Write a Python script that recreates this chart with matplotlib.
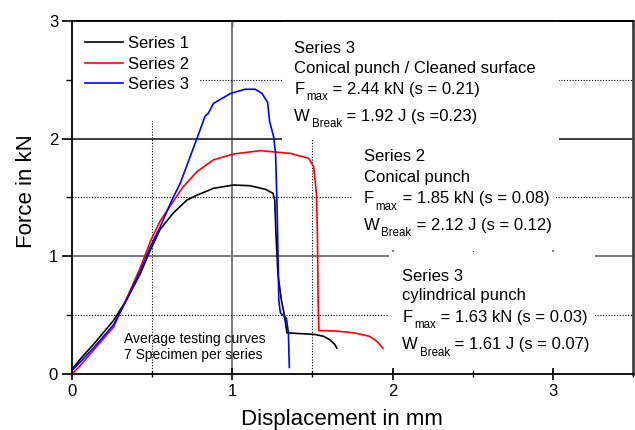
import matplotlib
matplotlib.use('Agg')
import matplotlib.pyplot as plt
from matplotlib.patches import Rectangle
import numpy as np

plt.rcParams['font.family'] = ['Liberation Sans', 'DejaVu Sans']

# ---------------- data ----------------
series_names = ["Series 1", "Series 2", "Series 3"]
series_colors = ["#000000", "#ff0000", "#0000ff"]

s1_x = [0, 0.06, 0.133, 0.26, 0.34, 0.425, 0.49, 0.55, 0.633, 0.717, 0.78, 0.883,
        1.008, 1.11, 1.206, 1.254, 1.265, 1.272, 1.285, 1.306, 1.325, 1.341, 1.40,
        1.47, 1.52, 1.57, 1.61, 1.64, 1.652]
s1_y = [0.04, 0.14, 0.25, 0.457, 0.63, 0.85, 1.057, 1.23, 1.37, 1.478, 1.52, 1.578,
        1.606, 1.60, 1.57, 1.536, 1.478, 1.2, 0.85, 0.63, 0.5, 0.35, 0.345,
        0.34, 0.335, 0.32, 0.29, 0.25, 0.22]

s2_x = [0, 0.05, 0.133, 0.26, 0.34, 0.425, 0.49, 0.55, 0.633, 0.69, 0.78, 0.883,
        1.008, 1.175, 1.3625, 1.477, 1.508, 1.525, 1.531, 1.536, 1.54, 1.65, 1.76,
        1.857, 1.9, 1.94]
s2_y = [0, 0.07, 0.2, 0.4, 0.64, 0.9, 1.13, 1.30, 1.47, 1.585, 1.72, 1.82,
        1.87, 1.898, 1.875, 1.833, 1.76, 1.535, 1.2, 0.6, 0.37, 0.365, 0.35,
        0.32, 0.28, 0.22]

s3_x = [0, 0.05, 0.133, 0.26, 0.34, 0.425, 0.49, 0.55, 0.623, 0.675, 0.775, 0.83,
        0.85, 0.883, 0.99, 1.08, 1.144, 1.185, 1.22, 1.233, 1.258, 1.27, 1.28,
        1.29, 1.30, 1.337, 1.35, 1.356]
s3_y = [0.03, 0.1, 0.22, 0.42, 0.63, 0.87, 1.085, 1.25, 1.478, 1.62, 1.985, 2.19,
        2.215, 2.30, 2.385, 2.42, 2.42, 2.385, 2.31, 2.145, 2.017, 1.875, 1.394,
        0.63, 0.52, 0.475, 0.35, 0.056]

x_major = [0, 1, 2, 3]
x_minor = [0.5, 1.5, 2.5, 3.5]
y_major = [0, 1, 2, 3]
y_minor = [0.5, 1.5, 2.5]

# text blocks: (plain line, plain line, (main, sub, rest), (main, sub, rest))
block_upper = ["Series 3", "Conical punch / Cleaned surface",
               ("F", "max", " = 2.44 kN (s = 0.21)"), ("W", "Break", " = 1.92 J (s =0.23)")]
block_mid = ["Series 2", "Conical punch",
             ("F", "max", " = 1.85 kN (s = 0.08)"), ("W", "Break", " = 2.12 J (s = 0.12)")]
block_low = ["Series 3", "cylindrical punch",
             ("F", "max", " = 1.63 kN (s = 0.03)"), ("W", "Break", " = 1.61 J (s = 0.07)")]
note_lines = ["Average testing curves", "7 Specimen per series"]

# ---------------- figure ----------------
fig = plt.figure(figsize=(6.35, 4.30), dpi=100)
ax = fig.add_axes([72/635, 1-374/430, 561/635, 353/430])
ax.set_xlim(0, 3.5)
ax.set_ylim(0, 3)

# grid lines (below everything)
for v in x_major[1:]:
    ax.axvline(v, color='#707070', lw=1.3, zorder=0.5)
for v in x_minor[:-1]:
    ax.axvline(v, color='k', lw=0.8, ls=(0, (1, 1.5)), zorder=0.5)
for v in y_major[1:-1]:
    ax.axhline(v, color='#303030' if v == 2 else '#707070', lw=1.3, zorder=0.5)
for v in y_minor:
    ax.axhline(v, color='k', lw=0.8, ls=(0, (1, 1.5)), zorder=0.5)

# white backgrounds of the text blocks
for (x0, y0, w, h) in [(0, 2.15, 0.8, 0.85), (1.31, 1.985, 1.73, 1.015),
                       (1.75, 1.05, 1.27, 0.935), (1.98, 0.03, 1.28, 1.01)]:
    ax.add_patch(Rectangle((x0, y0), w, h, facecolor='white', edgecolor='none', zorder=1))

for xs, ys, c, n in zip([s1_x, s2_x, s3_x], [s1_y, s2_y, s3_y], series_colors, series_names):
    ax.plot(xs, ys, color=c, lw=1.2, label=n, zorder=2)

leg = ax.legend(loc='upper left', bbox_to_anchor=(0.0232, 0.957), frameon=False,
                fontsize=12, handlelength=2.3, handletextpad=0.3, labelspacing=0.33,
                borderaxespad=0, borderpad=0)

def block(x, ys, lines, fs=12):
    for y, s in zip(ys, lines):
        if isinstance(s, tuple):
            main, sub, rest = s
            t1 = ax.text(x, y, main, fontsize=fs, va='baseline', ha='left', zorder=3)
            t2 = ax.annotate(sub, xy=(1, y), xycoords=(t1, 'data'), xytext=(1.2, -4.6),
                             textcoords='offset points', fontsize=8.3, va='baseline',
                             ha='left', zorder=3)
            ax.annotate(rest, xy=(1, y), xycoords=(t2, 'data'), xytext=(0.3, 0),
                        textcoords='offset points', fontsize=fs, va='baseline',
                        ha='left', zorder=3)
        else:
            ax.text(x, y, s, fontsize=fs, va='baseline', ha='left', zorder=3)

block(1.3875, [2.728, 2.558, 2.38, 2.15], block_upper)
block(1.82, [1.813, 1.629, 1.451, 1.224], block_mid)
block(2.06, [0.793, 0.629, 0.445, 0.21], block_low)
block(0.325, [0.265, 0.128], note_lines, fs=10)

# ticks
ax.set_xticks(x_major)
ax.set_xticks(x_minor, minor=True)
ax.set_yticks(y_major)
ax.set_yticks(y_minor, minor=True)
ax.tick_params(axis='x', which='major', direction='inout', length=8, width=1.2, labelsize=12, pad=3)
ax.tick_params(axis='x', which='minor', direction='inout', length=5, width=1.0)
ax.tick_params(axis='y', which='major', direction='out', length=7, width=1.2, labelsize=12, pad=3)
ax.tick_params(axis='y', which='minor', direction='out', length=4, width=1.0)

sec = ax.secondary_xaxis('top')
sec.set_xticks(x_major)
sec.set_xticks(x_minor, minor=True)
sec.tick_params(which='both', direction='in', length=4, width=1.0, labeltop=False)
sec.spines['top'].set_linewidth(1.3)

for s in ['left', 'bottom', 'top']:
    ax.spines[s].set_linewidth(1.3)
    ax.spines[s].set_color('black')
ax.spines['right'].set_linewidth(2.0)
ax.spines['right'].set_color('#444444')

ax.set_xlabel("Displacement in mm", fontsize=16)
ax.xaxis.set_label_coords((341.7 - 72) / 561, -0.098)
ax.set_ylabel("Force in kN", fontsize=16)
ax.yaxis.set_label_coords(-0.062, 0.517)

fig.savefig('out.png', dpi=100)
